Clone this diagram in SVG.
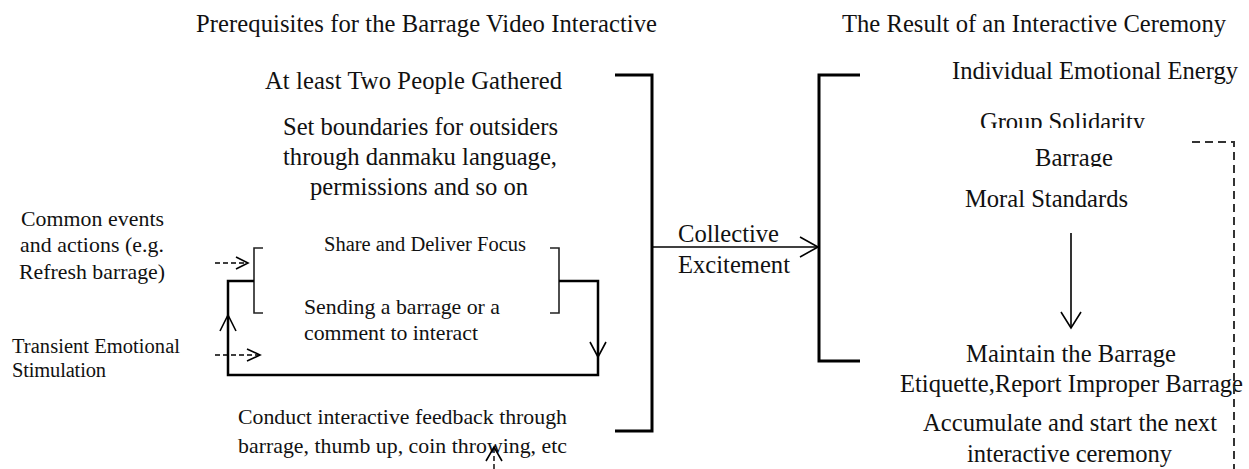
<svg xmlns="http://www.w3.org/2000/svg" width="1249" height="469" viewBox="0 0 1249 469">
<style>
text{font-family:"Liberation Serif","Times New Roman",serif;fill:#111;}
.t{font-size:24.6px;}
.s{font-size:21.8px;}
.xs{font-size:20.5px;}
.big{fill:none;stroke:#000;stroke-width:3;}
.loop{fill:none;stroke:#000;stroke-width:2.5;}
.thin{fill:none;stroke:#222;stroke-width:1.6;}
.chev{fill:none;stroke:#000;stroke-width:1.6;}
.dash{fill:none;stroke:#000;stroke-width:1.4;stroke-dasharray:5 3;}
.gdash{fill:none;stroke:#333;stroke-width:2;stroke-dasharray:8 5;}
</style>
<defs>
<clipPath id="clipGroup"><rect x="970" y="100" width="200" height="28"/></clipPath>
<clipPath id="clipBarrage"><rect x="1025" y="140" width="100" height="27"/></clipPath>
</defs>
<rect width="1249" height="469" fill="#fff"/>
<g id="titles">
<text class="t" x="196" y="32" textLength="461">Prerequisites for the Barrage Video Interactive</text>
<text class="t" x="842" y="32" textLength="384">The Result of an Interactive Ceremony</text>
</g>
<g id="node-gathered"><text class="t" x="265" y="89" textLength="297">At least Two People Gathered</text></g>
<g id="node-boundaries">
<text class="t" x="283" y="135" textLength="275">Set boundaries for outsiders</text>
<text class="t" x="283" y="165" textLength="274">through danmaku language,</text>
<text class="t" x="310" y="195" textLength="218">permissions and so on</text>
</g>
<g id="node-common">
<text class="s" x="21" y="226" textLength="143">Common events</text>
<text class="s" x="20" y="252" textLength="144">and actions (e.g.</text>
<text class="s" x="19" y="279" textLength="146">Refresh barrage)</text>
</g>
<g id="node-transient">
<text class="xs" x="12" y="353" textLength="168">Transient Emotional</text>
<text class="xs" x="12" y="377" textLength="94">Stimulation</text>
</g>
<g id="node-focus">
<path class="thin" d="M263,248 H254 V313 H263"/>
<path class="thin" d="M550,248 H559 V313 H550"/>
<text class="xs" x="324" y="251" textLength="202">Share and Deliver Focus</text>
<text class="s" x="304" y="314" textLength="196">Sending a barrage or a</text>
<text class="s" x="304" y="340" textLength="174">comment to interact</text>
</g>
<g id="node-feedback">
<text class="s" x="238" y="424" textLength="329">Conduct interactive feedback through</text>
<text class="s" x="238" y="453" textLength="329">barrage, thumb up, coin throwing, etc</text>
</g>
<g id="node-collective">
<text class="t" x="678" y="242" textLength="101">Collective</text>
<text class="t" x="678" y="273" textLength="112">Excitement</text>
</g>
<g id="node-results">
<text class="t" x="952" y="79" textLength="286">Individual Emotional Energy</text>
<g clip-path="url(#clipGroup)"><text class="t" x="980" y="130" textLength="165">Group Solidarity</text></g>
<g clip-path="url(#clipBarrage)"><text class="t" x="1035" y="166" textLength="78">Barrage</text></g>
<text class="t" x="965" y="207" textLength="163">Moral Standards</text>
</g>
<g id="node-maintain">
<text class="t" x="966" y="362" textLength="210">Maintain the Barrage</text>
<text class="t" x="900" y="392" textLength="343">Etiquette,Report Improper Barrage</text>
</g>
<g id="node-accumulate">
<text class="t" x="923" y="431" textLength="294">Accumulate and start the next</text>
<text class="t" x="967" y="462" textLength="205">interactive ceremony</text>
</g>
<g id="connectors">
<path class="big" d="M615,75 H652 V431 H615"/>
<path class="big" d="M860,75 H819 V361 H860"/>
<path class="chev" d="M652,247 H818"/>
<path class="chev" d="M800,237 L818,247 L800,257"/>
<path class="loop" d="M254,281 H228 V375 H598 V281 H559"/>
<path class="chev" d="M220,331 L228,315 L236,331"/>
<path class="chev" d="M590,342 L598,357 L606,342"/>
<path class="dash" d="M215,263 H247"/>
<path class="chev" d="M236,257 L248,263 L236,269"/>
<path class="dash" d="M215,355 H259"/>
<path class="chev" d="M247,349 L260,355 L247,361"/>
<path class="chev" d="M1071,233 V328"/>
<path class="chev" d="M1061,312 L1071,328 L1081,312"/>
<path class="chev" d="M486,461 L494,447 L502,461"/>
<path class="dash" d="M494,448 V469"/>
<path class="gdash" d="M1192,142 H1234 V469"/>
</g>
</svg>
